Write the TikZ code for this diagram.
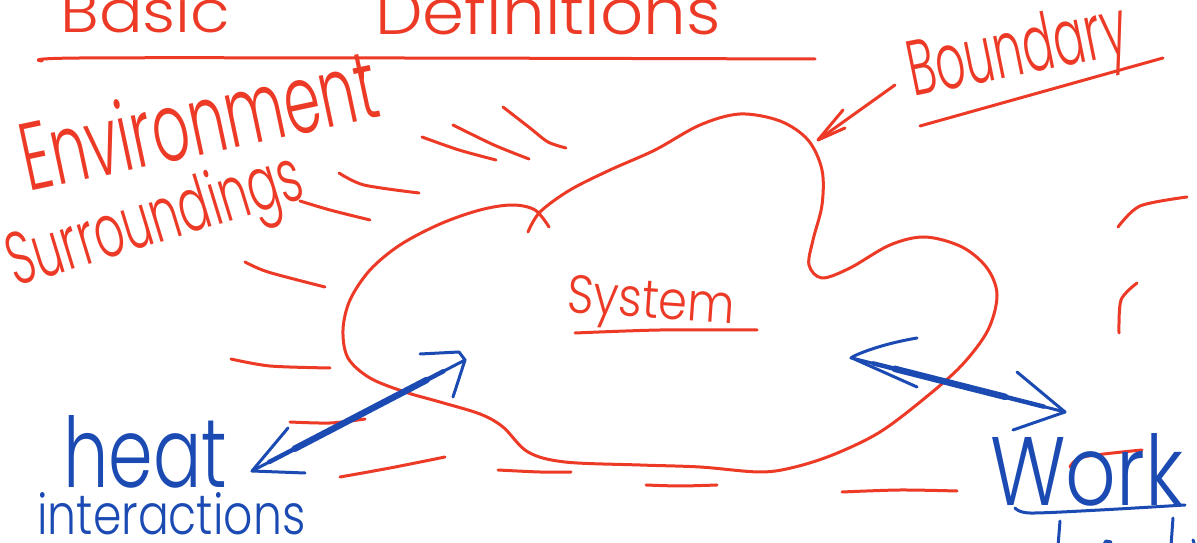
\documentclass[tikz,border=0pt]{standalone}
\usepackage{fontspec}
\usepackage{graphicx}
\setmainfont{Poppins Light}
\usetikzlibrary{calc}

% one unit = one pixel of the 1197 x 543 sheet
\newlength\pxu \setlength\pxu{0.02cm}
\definecolor{penred}{RGB}{236,58,38}
\definecolor{penblue}{RGB}{26,74,178}
% a word squeezed into a given width and cap height (in pixel units)
\newcommand\handword[3]{\resizebox{#1\pxu}{#2\pxu}{#3}}

\begin{document}
\begin{tikzpicture}[x=0.02cm,y=-0.02cm,
  redpen/.style={draw=penred, line width=3\pxu, line cap=round, line join=round},
  bluepen/.style={draw=penblue, line width=3\pxu, line cap=round, line join=round},
  shaft/.style={bluepen, line width=6.5\pxu},
  redword/.style={text=penred, inner sep=0pt, anchor=base west},
  blueword/.style={text=penblue, inner sep=0pt, anchor=base west},
]
\useasboundingbox (0,0) rectangle (1197,543);

% ---------------- title ----------------
\node[redword] (basic) at (60,33) {\handword{170}{44}{Basic}};
\node[redword] (defs) at (375,35) {\handword{345}{48}{Definitions}};
\draw[redpen] plot[smooth, tension=0.6] coordinates {(42,61) (80,58) (400,58) (815,59)};
\draw[redpen] (362,70) -- (362,79);

% ---------------- surroundings hatch ----------------
\draw[redpen] plot[smooth] coordinates {(503,107) (530,128) (548,142) (566,148)};
\draw[redpen] plot[smooth] coordinates {(453,125) (494,145) (529,159)};
\draw[redpen] plot[smooth] coordinates {(422,137) (459,150) (496,160)};
\draw[redpen] plot[smooth] coordinates {(339,173) (364,185) (419,193)};
\draw[redpen] plot[smooth] coordinates {(300,201) (330,210) (370,220)};
\draw[redpen] plot[smooth] coordinates {(245,262) (268,272) (325,287)};
\draw[redpen] plot[smooth] coordinates {(231,359) (270,366) (330,368)};
\draw[redpen] plot[smooth] coordinates {(290,422) (330,423) (365,419)};
\draw[redpen] plot[smooth] coordinates {(340,477) (390,468) (445,457)};
\draw[redpen] plot[smooth] coordinates {(498,470) (540,472) (571,472)};
\draw[redpen] plot[smooth] coordinates {(646,485) (680,486) (717,485)};
\draw[redpen] plot[smooth] coordinates {(842,492) (900,490) (957,491)};
\draw[redpen] plot[smooth] coordinates {(1118,227) (1140,206) (1187,197)};
\draw[redpen] plot[smooth] coordinates {(1137,283) (1121,300) (1119,333)};
\draw[redpen] plot[smooth] coordinates {(1070,467) (1083,457) (1142,450)};

% ---------------- the system outline ----------------
\draw[redpen] plot[smooth, tension=0.55] coordinates {
  (528,232) (540,212) (570,190) (610,170) (655,150) (700,125) (740,114)
  (780,121) (808,140) (822,170) (822,205) (813,240) (809,265) (822,278)
  (850,268) (890,245) (925,237) (962,247) (987,268) (997,295) (988,330)
  (962,365) (925,398) (880,432) (835,454) (795,467) (760,472) (700,467)
  (640,465) (565,462) (528,452) (503,427) (480,414) (440,402) (405,392)
  (370,378) (348,358) (343,330) (350,300) (370,270) (400,245) (440,224)
  (480,210) (512,205) (535,210) (549,227)};

% ---------------- labels ----------------
\node[redword, rotate=12] (env) at (28,192) {\handword{362}{72}{Environment}};
\node[redword, rotate=17] (surr) at (15,287) {\handword{305}{56}{Surroundings}};
\node[redword, rotate=-4] (sys) at (566,312) {\handword{168}{38}{System}};
\draw[redpen] plot[smooth] coordinates {(575,333) (660,330) (757,330)};

\node[redword, rotate=11.5] (bnd) at (913,97) {\handword{222}{58}{Boundary}};
\draw[redpen] (920,126) -- (1163,58);

% arrow pointing at the outline
\coordinate (bndtail) at (895,85);
\coordinate (bndtip) at (818,140);
\draw[redpen] (bndtail) -- (bndtip);
\draw[redpen] (843,110) -- (bndtip) -- (845,128);

% ---------------- heat interactions ----------------
\node[blueword] (heat) at (63,488) {\handword{164}{72}{heat}};
\node[blueword] (inter) at (37,535) {\handword{268}{42}{interactions}};

\coordinate (heatL) at (252,471);
\coordinate (heatR) at (465,360);
\draw[bluepen] (heatL) -- (heatR);
\draw[bluepen, line width=4.5\pxu] ($(heatL)!0.08!(heatR)$) -- ($(heatL)!0.9!(heatR)$);
\draw[shaft] ($(heatL)!0.2!(heatR)$) -- ($(heatL)!0.82!(heatR)$);
\draw[bluepen] (288,428) -- (heatL) -- (305,473);
\draw[bluepen] (420,354) -- (459,352) -- (heatR) -- (453,397);

% ---------------- work interactions ----------------
\node[blueword] (work) at (990,506) {\handword{193}{72}{Work}};
\draw[bluepen] plot[smooth] coordinates {(1015,508) (1030,513) (1100,510) (1185,505)};
\draw[bluepen] (1060,521) -- (1058,546);
\draw[bluepen] (1173,518) -- (1171,546);
\draw[bluepen] (1103,546) -- (1106,541) -- (1111,542);
\draw[bluepen] (1193,540) -- (1195,546);

\coordinate (workL) at (852,358);
\coordinate (workR) at (1065,412);
\draw[bluepen] (workL) -- (workR);
\draw[bluepen, line width=4.5\pxu] ($(workL)!0.1!(workR)$) -- ($(workL)!0.9!(workR)$);
\draw[shaft] ($(workL)!0.2!(workR)$) -- ($(workL)!0.72!(workR)$);
\draw[bluepen] (917,338) .. controls (870,346) and (845,360) .. (workL) -- (917,387);
\draw[bluepen] (1017,372) -- (workR) -- (1013,430);
\end{tikzpicture}
\end{document}
